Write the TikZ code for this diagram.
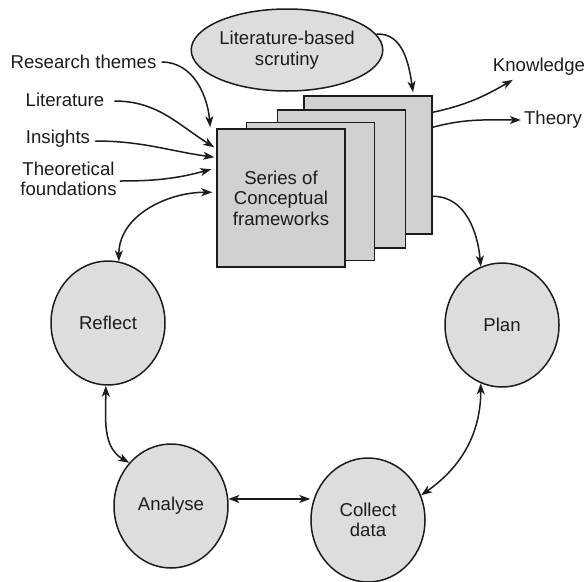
\documentclass[tikz,border=0pt]{standalone}
\usepackage{fontspec}
\setmainfont{Liberation Sans}
\usetikzlibrary{arrows.meta,calc,shapes.geometric}
\definecolor{ink}{RGB}{30,27,28}
\definecolor{circfill}{RGB}{220,221,223}
\definecolor{boxfill}{RGB}{208,209,211}
\tikzset{
  lbl/.style={font=\fontsize{18.6}{20.5}\selectfont, text=ink, inner sep=0pt, align=center},
  stage/.style={ellipse, draw=ink, line width=1.5pt, fill=circfill, minimum width=114pt, minimum height=124pt, inner sep=0pt, font=\fontsize{18.6}{20.5}\selectfont, text=ink, align=center},
  frame/.style={rectangle, draw=ink, line width=1.5pt, fill=boxfill, minimum width=128pt, minimum height=138pt, inner sep=0pt},
  conn/.style={draw=ink, line width=1.5pt, -{Stealth[length=11pt,width=8pt,inset=3pt]}},
  dconn/.style={draw=ink, line width=1.5pt, {Stealth[length=11pt,width=8pt,inset=3pt]}-{Stealth[length=11pt,width=8pt,inset=3pt]}}
}
\begin{document}
\begin{tikzpicture}[x=1pt,y=-1pt]
\useasboundingbox (0,0) rectangle (585,581);
% stacked frames
\node[frame] (back) at (368,165) {};
\node[frame] (third) at (341.5,179) {};
\node[frame] (second) at (310.5,191.5) {};
\node[frame, lbl, minimum width=128pt, minimum height=138pt, draw=ink, line width=1.5pt, fill=boxfill] (front) at (281,198) {Series of\\Conceptual\\frameworks};
% scrutiny ellipse
\node[ellipse, draw=ink, line width=1.5pt, fill=circfill, minimum width=150pt, minimum height=82pt, inner sep=0pt, lbl] (lit) at (287,50) {Literature-based\\scrutiny};
% stages
\node[stage] (reflect) at (108,323) {Reflect};
\node[stage] (analyse) at (171,506) {Analyse};
\node[stage] (plan) at (502,325) {Plan};
\node[stage] (collect) at (368,520) {Collect\\data};
% labels
\node[lbl] (rt) at (83.5,62) {Research themes};
\node[lbl] (li) at (65,100) {Literature};
\node[lbl] (ins) at (58,139) {Insights};
\node[lbl] (tf) at (68.5,179) {Theoretical\\foundations};
\node[lbl] (kn) at (539,67) {Knowledge};
\node[lbl] (th) at (553,120) {Theory};
% endpoints
\coordinate (rtE) at ($(front.north west)+(-6,-1)$);
\coordinate (liE) at ($(front.north west)+(-2,19)$);
\coordinate (inE) at ($(front.north west)+(-2,29)$);
\coordinate (tfE) at ($(front.north west)+(-5,41)$);
\coordinate (rfE) at ($(front.north west)+(-4,64)$);
\coordinate (litE) at ($(back.north)+(45,-3)$);
\coordinate (knS) at ($(back.north east)+(0,17)$);
\coordinate (thS) at ($(back.north east)+(0,32)$);
\coordinate (plS) at ($(back.north east)+(0,101)$);
\coordinate (knE) at ($(kn.south west)+(20,4)$);
% inputs
\draw[conn] (rt.east) ++(5,0) to[out=0,in=95] (rtE);
\draw[conn] (li.east) ++(10,1) to[out=0,in=148] (liE);
\draw[conn] (ins.east) ++(5,2) to[out=0,in=172] (inE);
\draw[conn] ($(tf.east)+(3,2)$) to[out=0,in=195] (tfE);
\draw[conn] (lit.10) to[out=5,in=98] (litE);
% outputs
\draw[conn] (knS) to[out=12,in=210] (knE);
\draw[conn] (thS) to[out=15,in=180] ($(th.west)+(-3,0)$);
\draw[conn] (plS) to[out=0,in=95] (plan.110);
% cycle
\draw[dconn] (rfE) to[out=180,in=90] (reflect.80);
\draw[dconn] (reflect.268) to[out=-90,in=150] (analyse.134);
\draw[dconn] (analyse.7) -- (analyse.7 -| collect.west);
\draw[dconn] (plan.250) to[out=-90,in=35] (collect.25);
\end{tikzpicture}
\end{document}
